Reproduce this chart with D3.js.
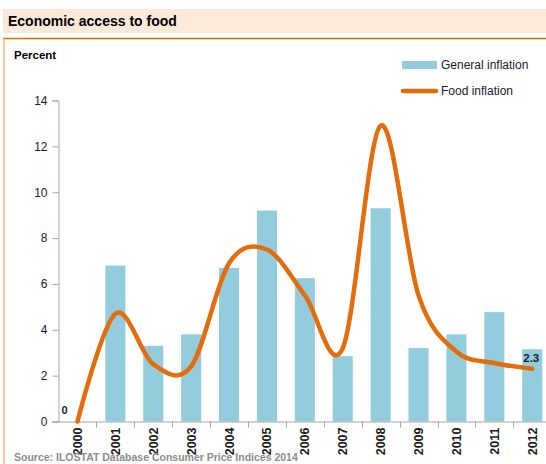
<!DOCTYPE html>
<html><head><meta charset="utf-8">
<script src="https://cdn.jsdelivr.net/npm/d3@7"></script>
<style>
html,body{margin:0;padding:0;background:#fff;}
svg{display:block;font-family:"Liberation Sans",Arial,sans-serif;}
</style></head>
<body><svg id="c" width="546" height="464"></svg>
<script>
const years = ["2000","2001","2002","2003","2004","2005","2006","2007","2008","2009","2010","2011","2012"];
const generalInflation = [null,6.8,3.3,3.8,6.7,9.2,6.25,2.85,9.3,3.2,3.8,4.77,3.15];
const foodInflation = [0,4.7,2.5,2.4,6.9,7.5,5.5,3.2,12.9,5.5,3.05,2.55,2.3];
const yTicks = [0,2,4,6,8,10,12,14];
const title = "Economic access to food";
const yLabel = "Percent";
const source = "Source:  ILOSTAT Database Consumer Price Indices 2014";
const legendLabels = ["General inflation","Food inflation"];

const svg = d3.select("#c");
const blue = "#93cddd", orange = "#e46c0a";

// header
svg.append("rect").attr("x",3).attr("y",9).attr("width",543).attr("height",24).attr("fill","#fde9d9");
svg.append("text").attr("x",8).attr("y",26).attr("font-size",14).attr("font-weight","bold").attr("fill","#000").text(title);
svg.append("line").attr("x1",3).attr("x2",546).attr("y1",38.5).attr("y2",38.5).attr("stroke",orange).attr("stroke-width",1.5);
svg.append("line").attr("x1",4).attr("x2",4).attr("y1",38).attr("y2",464).attr("stroke","#f2a66a").attr("stroke-width",1.2);

const x = d3.scaleBand().domain(years).range([58.5,551.2]).padding(0);
const y = d3.scaleLinear().domain([0,14]).range([421.5,100.5]);

// bars
const bw = x.bandwidth()*0.53;
svg.append("g").selectAll("rect").data(years.map((d,i)=>({yr:d,v:generalInflation[i]})).filter(d=>d.v!=null))
  .join("rect")
  .attr("x",d=>x(d.yr)+(x.bandwidth()-bw)/2)
  .attr("width",bw)
  .attr("y",d=>y(d.v))
  .attr("height",d=>y(0)-y(d.v))
  .attr("fill",blue);

// y axis
const ya = svg.append("g").attr("transform","translate(58.5,0)")
  .call(d3.axisLeft(y).tickValues(yTicks).tickSize(6).tickPadding(5).tickFormat(d3.format("d")));
ya.select(".domain").attr("stroke","#a6a6a6");
ya.selectAll(".tick line").attr("stroke","#a6a6a6");
ya.selectAll("text").attr("font-size",12).attr("fill","#1a1a33").attr("font-family","Liberation Sans, Arial, sans-serif");

// x axis
const xa = svg.append("g");
xa.append("line").attr("x1",52).attr("x2",551).attr("y1",y(0)+0.5).attr("y2",y(0)+0.5).attr("stroke","#a6a6a6");
xa.selectAll("line.t").data(years.slice(1).concat(["end"])).join("line").attr("class","t")
  .attr("x1",(d,i)=>Math.round(x(years[i])+x.bandwidth())+0.5)
  .attr("x2",(d,i)=>Math.round(x(years[i])+x.bandwidth())+0.5)
  .attr("y1",y(0)).attr("y2",y(0)+6).attr("stroke","#a6a6a6");
xa.selectAll("text").data(years).join("text")
  .attr("transform",d=>`translate(${x(d)+x.bandwidth()/2+4.5},${y(0)+6}) rotate(-90)`)
  .attr("text-anchor","end").attr("font-size",12.5).attr("font-weight","bold").attr("fill","#1a1a1a")
  .text(d=>d);

// line
const line = d3.line().x((d,i)=>x(years[i])+x.bandwidth()/2).y(d=>y(d)).curve(d3.curveCardinal.tension(0));
svg.append("path").datum(foodInflation).attr("d",line).attr("fill","none").attr("stroke",orange)
  .attr("stroke-width",4.5).attr("stroke-linecap","round").attr("stroke-linejoin","round");

// data labels
svg.append("text").attr("x",x(years[0])+x.bandwidth()/2-13).attr("y",414).attr("text-anchor","middle")
  .attr("font-size",11).attr("font-weight","bold").attr("fill","#1a1a33").text(d3.format("d")(foodInflation[0]));
const li = years.length-1;
svg.append("text").attr("x",x(years[li])+x.bandwidth()/2-1).attr("y",y(foodInflation[li])-7).attr("text-anchor","middle")
  .attr("font-size",11.5).attr("font-weight","bold").attr("fill","#1a1a33").text(d3.format(".1f")(foodInflation[li]));

// y label
svg.append("text").attr("x",14).attr("y",59).attr("font-size",11.5).attr("font-weight","bold").attr("fill","#000").text(yLabel);

// legend
svg.append("rect").attr("x",402).attr("y",61).attr("width",35).attr("height",8).attr("fill",blue);
svg.append("text").attr("x",441).attr("y",69).attr("font-size",12).attr("fill","#1a1a33").text(legendLabels[0]);
svg.append("line").attr("x1",403).attr("x2",436).attr("y1",91).attr("y2",91).attr("stroke",orange).attr("stroke-width",4.5).attr("stroke-linecap","round");
svg.append("text").attr("x",441).attr("y",95).attr("font-size",12).attr("fill","#1a1a33").text(legendLabels[1]);

// source
svg.append("text").attr("x",14).attr("y",461).attr("font-size",10.5).attr("font-weight","bold").attr("fill","#8c8c8c").text(source);
</script></body></html>
